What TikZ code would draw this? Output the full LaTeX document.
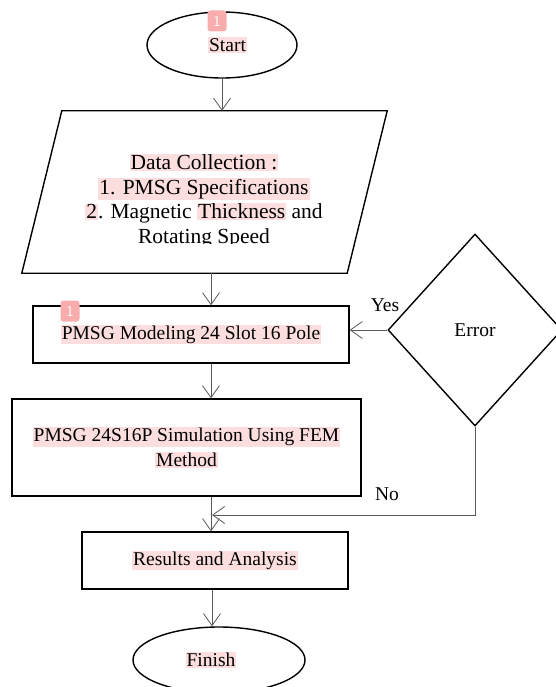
\documentclass[tikz,border=0pt]{standalone}
\usepackage{fontspec}
\setmainfont{Liberation Serif}
\usepackage{xcolor}
\usetikzlibrary{shapes.geometric,arrows.meta}
\definecolor{hlpink}{RGB}{253,222,222}
\definecolor{notepink}{RGB}{248,172,172}
\definecolor{linegray}{RGB}{90,90,90}
\newcommand{\hl}[1]{{\setlength{\fboxsep}{1pt}\colorbox{hlpink}{#1}}}

\begin{document}
\begin{tikzpicture}[x=1pt,y=-1pt]
\tikzstyle{every node}=[font=\fontsize{19.5}{24.5}\selectfont];
\tikzstyle{terminal}=[draw,ellipse,line width=1.4pt,inner sep=0pt];
\tikzstyle{process}=[draw,rectangle,line width=1.4pt,inner sep=0pt,align=center];
\tikzstyle{databox}=[rectangle,minimum width=365pt,minimum height=162pt,inner sep=0pt];
\tikzstyle{decision}=[draw,diamond,line width=1.4pt,minimum width=174pt,minimum height=192pt,inner sep=0pt];
\tikzstyle{conn}=[draw=linegray,line width=0.8pt,-{Straight Barb[length=12pt,width=17pt]}];
\tikzstyle{note}=[fill=notepink,rounded corners=3pt,text=white,font=\sffamily\fontsize{15}{15}\selectfont,minimum width=19pt,minimum height=21pt,inner sep=0pt];
\useasboundingbox (0,0) rectangle (556,687);
\path (222,45) node[terminal,minimum width=150pt,minimum height=66pt] (start) {\hspace*{11pt}\hl{Start}};
\path (204.5,192) node[databox] (para) {};
\draw[line width=1.4pt] ([xshift=40pt]para.north west) -- (para.north east) -- ([xshift=-40pt]para.south east) -- (para.south west) -- cycle;
\begin{scope}
\clip (0,100) rectangle (556,243);
\path (204,201) node[align=center,font=\fontsize{21.5}{24.5}\selectfont] (datatext) {\hl{Data Collection :}\\\hl{1. PMSG Specifications}\\\hl{2}. Magnetic \hl{Thickness} and\\Rotating Speed};
\end{scope}
\path (191,334.5) node[process,minimum width=316pt,minimum height=57pt] (model) {\hl{PMSG Modeling 24 Slot 16 Pole}};
\path (475,330) node[decision] (err) {Error};
\path (186.5,447.5) node[process,minimum width=349pt,minimum height=97pt] (sim) {\hl{PMSG 24S16P Simulation Using FEM}\\\hl{Method}};
\path (215,560.5) node[process,minimum width=266pt,minimum height=57pt] (result) {\hl{Results and Analysis}};
\path (219,660) node[terminal,minimum width=172pt,minimum height=66pt] (finish) {\hl{Finish}\hspace*{16pt}};
\path (385,305) node (yes) {Yes};
\path (387,494) node (no) {No};
\path (217,21) node[note] (n1) {1};
\path (70,311) node[note] (n2) {1};
\coordinate (spine) at (211,0);
\coordinate (join) at (212,515);
\draw[conn] (start) -- (start |- para.north);
\draw[conn] (para.south -| spine) -- (model.north -| spine);
\draw[conn] (model.south -| spine) -- (sim.north -| spine);
\draw[conn] (sim.south -| spine) -- (result.north -| spine);
\draw[conn] (result.south -| join) -- (finish.north -| join);
\draw[conn] (err.west) -- (err.west -| model.east);
\draw[conn] (err.south) |- (join);
\end{tikzpicture}
\end{document}
